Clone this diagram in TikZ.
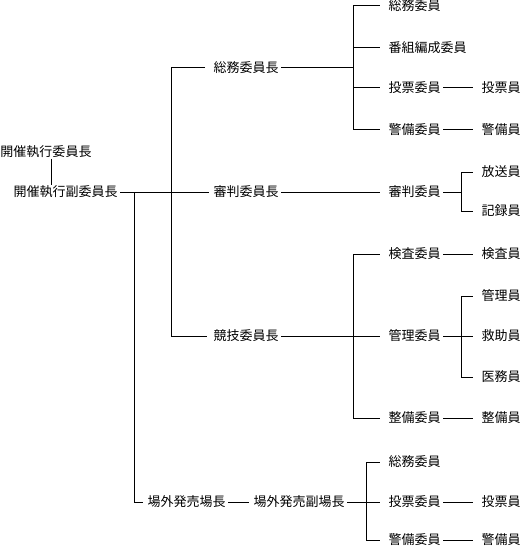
\documentclass[tikz,border=0pt]{standalone}
\usepackage{fontspec}
\newfontfamily\jp{Noto Sans CJK JP}
\begin{document}
\begin{tikzpicture}[x=1pt,y=-1pt,line width=1pt,
  lbl/.style={font=\jp\fontsize{13}{13}\selectfont, anchor=west, inner xsep=2pt, inner ysep=0pt, text height=11.4pt, text depth=1.6pt}]
\useasboundingbox (0,0) rectangle (520,548);
% left / upper levels
\node[lbl] (kc) at (-2,152) {開催執行委員長};
\node[lbl] (kf) at (11,192) {開催執行副委員長};
\node[lbl] (somc) at (211,68) {総務委員長};
\node[lbl] (shinc) at (211,192) {審判委員長};
\node[lbl] (kyoc) at (211,336) {競技委員長};
\node[lbl] (jgc) at (145,502) {場外発売場長};
\node[lbl] (jgf) at (251,502) {場外発売副場長};
% middle column
\node[lbl] (som1) at (386,6) {総務委員};
\node[lbl] (ban) at (386,48) {番組編成委員};
\node[lbl] (tou1) at (386,88) {投票委員};
\node[lbl] (kei1) at (386,130) {警備委員};
\node[lbl] (shin) at (386,192) {審判委員};
\node[lbl] (ken) at (386,254) {検査委員};
\node[lbl] (kan) at (386,336) {管理委員};
\node[lbl] (sei) at (386,418) {整備委員};
\node[lbl] (som2) at (386,462) {総務委員};
\node[lbl] (tou2) at (386,502) {投票委員};
\node[lbl] (kei2) at (386,540) {警備委員};
% right column
\node[lbl] (touin1) at (479,88) {投票員};
\node[lbl] (keiin1) at (479,130) {警備員};
\node[lbl] (hou) at (479,172) {放送員};
\node[lbl] (kiroku) at (479,211) {記録員};
\node[lbl] (kenin) at (479,254) {検査員};
\node[lbl] (kanin) at (479,296) {管理員};
\node[lbl] (kyu) at (479,336) {救助員};
\node[lbl] (imu) at (479,377) {医務員};
\node[lbl] (seiin) at (479,418) {整備員};
\node[lbl] (touin2) at (479,502) {投票員};
\node[lbl] (keiin2) at (479,540) {警備員};
% bus positions
\coordinate (bA) at (134,0);
\coordinate (bB) at (171,0);
\coordinate (bC) at (353,0);
\coordinate (bE) at (366,0);
\coordinate (bR) at (461,0);
% connectors
\draw ([xshift=5pt]kc.south) -- ([xshift=5pt]kc.south |- kf.north);
\draw (kf.east) -- ([xshift=-2pt]shinc.west);
\draw (kf.east -| bA) -- (bA |- jgc) -- ([xshift=-2pt]jgc.west);
\draw ([xshift=-6pt]somc.west) -- (bB |- somc) -- (bB |- kyoc) -- ([xshift=-4pt]kyoc.west);
\draw (somc.east) -- (bC |- somc);
\draw (bC |- som1) -- (bC |- kei1);
\foreach \c in {som1,ban,tou1,kei1}{\draw (bC |- \c) -- ([xshift=-6pt]\c.west);}
\draw (shinc.east) -- ([xshift=-6pt]shin.west);
\draw (shin.east) -- (bR |- shin);
\draw (bR |- hou) -- (bR |- kiroku);
\foreach \c in {hou,kiroku}{\draw (bR |- \c) -- ([xshift=-6pt]\c.west);}
\draw (kyoc.east) -- ([xshift=-6pt]kan.west);
\draw (bC |- ken) -- (bC |- sei);
\foreach \c in {ken,sei}{\draw (bC |- \c) -- ([xshift=-6pt]\c.west);}
\draw (kan.east) -- (bR |- kan);
\draw (bR |- kanin) -- (bR |- imu);
\foreach \c in {kanin,kyu,imu}{\draw (bR |- \c) -- ([xshift=-6pt]\c.west);}
\draw (tou1.east) -- ([xshift=-6pt]touin1.west);
\draw (kei1.east) -- ([xshift=-6pt]keiin1.west);
\draw (ken.east) -- ([xshift=-6pt]kenin.west);
\draw (sei.east) -- ([xshift=-6pt]seiin.west);
\draw (tou2.east) -- ([xshift=-6pt]touin2.west);
\draw (kei2.east) -- ([xshift=-6pt]keiin2.west);
\draw (jgc.east) -- ([xshift=-2pt]jgf.west);
\draw (jgf.east) -- ([xshift=-6pt]tou2.west);
\draw (bE |- som2) -- (bE |- kei2);
\foreach \c in {som2,kei2}{\draw (bE |- \c) -- ([xshift=-6pt]\c.west);}
\end{tikzpicture}
\end{document}
